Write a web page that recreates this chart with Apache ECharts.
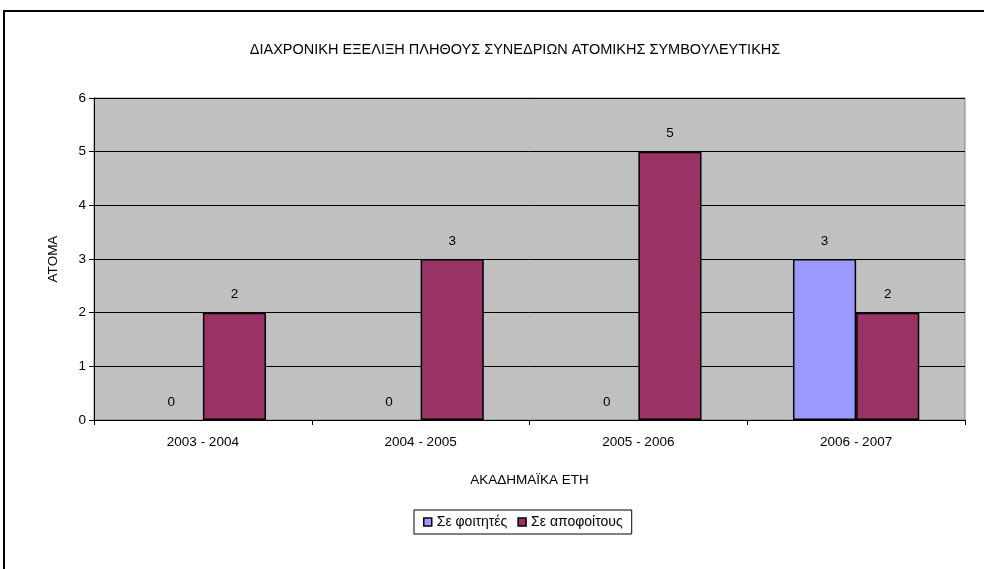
<!DOCTYPE html>
<html><head><meta charset="utf-8">
<script src="https://cdn.jsdelivr.net/npm/echarts@6/dist/echarts.min.js"></script>
<style>html,body{margin:0;padding:0;background:#fff}#c{width:984px;height:569px}</style>
</head><body><div id="c"></div>
<script>
const categories = ['2003 - 2004', '2004 - 2005', '2005 - 2006', '2006 - 2007'];
const students = [0, 0, 0, 3];
const graduates = [2, 3, 5, 2];
const seriesNames = ['Σε φοιτητές', 'Σε αποφοίτους'];
const titleText = 'ΔΙΑΧΡΟΝΙΚΗ ΕΞΕΛΙΞΗ ΠΛΗΘΟΥΣ ΣΥΝΕΔΡΙΩΝ ΑΤΟΜΙΚΗΣ ΣΥΜΒΟΥΛΕΥΤΙΚΗΣ';
const yName = 'ΑΤΟΜΑ';
const xName = 'ΑΚΑΔΗΜΑΪΚΑ ΕΤΗ';

const font = 'Liberation Sans, Arial, sans-serif';
const chart = echarts.init(document.getElementById('c'), null, {renderer: 'canvas'});
const lbl = {show: true, position: 'top', color: '#000', fontSize: 13.5, fontFamily: font, distance: 11};
const toItems = arr => arr.map(v => v === 0 ? {value: v, itemStyle: {borderWidth: 0}} : v);
chart.setOption({
  animation: false,
  textStyle: {fontFamily: font},
  title: {text: titleText, left: 510, top: 37, textAlign: 'center',
    textStyle: {fontSize: 14.5, fontWeight: 'normal', color: '#000', fontFamily: font}},
  graphic: [{type: 'rect', shape: {x: 4, y: 11, width: 1000, height: 600},
    style: {fill: 'none', stroke: '#000', lineWidth: 2}, silent: true}],
  legend: {top: 510, left: 414, itemWidth: 8, itemHeight: 8, itemGap: 10,
    padding: [5, 9], borderColor: '#000', borderWidth: 1,
    textStyle: {fontSize: 14, color: '#000', fontFamily: font},
    data: seriesNames.map(n => ({name: n, icon: 'rect', itemStyle: {borderColor: '#000', borderWidth: 1.5}}))},
  grid: {left: 94, right: 19, top: 98, bottom: 149, show: true,
    backgroundColor: '#C0C0C0', borderColor: '#808080', borderWidth: 1},
  xAxis: {type: 'category', data: categories, name: xName, nameLocation: 'middle', nameGap: 53,
    nameTextStyle: {fontSize: 13.5, color: '#000'},
    axisLine: {lineStyle: {color: '#000', width: 1}},
    axisTick: {show: true, length: 5, lineStyle: {color: '#000'}},
    axisLabel: {fontSize: 13.5, color: '#000', margin: 15}},
  yAxis: {type: 'value', min: 0, max: 6, interval: 1, name: yName, nameLocation: 'middle', nameGap: 34,
    nameRotate: 90, nameTextStyle: {fontSize: 13.5, color: '#000'},
    axisLine: {show: true, lineStyle: {color: '#000'}},
    axisTick: {show: true, length: 5, lineStyle: {color: '#000'}},
    axisLabel: {fontSize: 13.5, color: '#000', margin: 8},
    splitLine: {lineStyle: {color: '#000', width: 1}}},
  series: [
    {name: seriesNames[0], type: 'bar', data: toItems(students), barGap: '0%', barCategoryGap: '42%',
     itemStyle: {color: '#9999FF', borderColor: '#000', borderWidth: 1.5}, label: lbl},
    {name: seriesNames[1], type: 'bar', data: toItems(graduates),
     itemStyle: {color: '#993366', borderColor: '#000', borderWidth: 1.5}, label: lbl}
  ]
});
</script></body></html>
